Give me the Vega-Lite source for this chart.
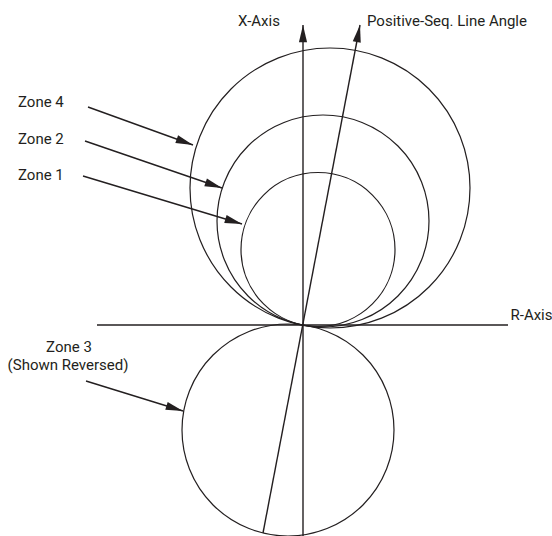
{
  "$schema": "https://vega.github.io/schema/vega-lite/v6.json",
  "width": 552,
  "height": 536,
  "padding": 0,
  "autosize": {"type": "none"},
  "config": {"view": {"stroke": null}, "text": {"font": "Roboto", "fontSize": 15, "color": "#231f20"}},
  "layer": [
    {
      "data": {"values": [
        {"zone": "Zone 4", "x": 2.7, "y": 13.7, "diameter": 28.0},
        {"zone": "Zone 2", "x": 2.0, "y": 10.4, "diameter": 21.2},
        {"zone": "Zone 1", "x": 1.5, "y": 7.55, "diameter": 15.4},
        {"zone": "Zone 3", "x": -1.5, "y": -10.5, "diameter": 21.2}
      ]},
      "mark": {"type": "point", "shape": "circle", "filled": false, "stroke": "#231f20", "strokeWidth": 1.2, "opacity": 1},
      "encoding": {
        "x": {"field": "x", "type": "quantitative", "scale": {"domain": [-30.3, 24.9], "nice": false, "zero": false}, "axis": null},
        "y": {"field": "y", "type": "quantitative", "scale": {"domain": [-21.1, 32.5], "nice": false, "zero": false}, "axis": null},
        "size": {"field": "diameter", "type": "quantitative", "scale": {"type": "pow", "exponent": 2, "domain": [0, 30], "range": [0, 90000]}, "legend": null}
      }
    },
    {
      "data": {"values": [
        {"name": "R-Axis", "x": -20.6, "y": 0, "x2": 20.5, "y2": 0},
        {"name": "X-Axis", "x": 0, "y": -21.1, "x2": 0, "y2": 30.0},
        {"name": "Line Angle", "x": -4.0, "y": -20.8, "x2": 5.7, "y2": 30.0},
        {"name": "Zone 4", "x": -21.5, "y": 21.8, "x2": -11.0, "y2": 18.0},
        {"name": "Zone 2", "x": -21.8, "y": 18.4, "x2": -8.1, "y2": 13.7},
        {"name": "Zone 1", "x": -22.0, "y": 14.9, "x2": -6.1, "y2": 10.1},
        {"name": "Zone 3", "x": -21.7, "y": -5.6, "x2": -12.0, "y2": -8.6}
      ]},
      "mark": {"type": "rule", "color": "#231f20", "strokeWidth": 1.4},
      "encoding": {
        "x": {"field": "x", "type": "quantitative", "scale": {"domain": [-30.3, 24.9], "nice": false, "zero": false}, "axis": null},
        "y": {"field": "y", "type": "quantitative", "scale": {"domain": [-21.1, 32.5], "nice": false, "zero": false}, "axis": null},
        "x2": {"field": "x2"},
        "y2": {"field": "y2"}
      }
    },
    {
      "data": {"values": [
        {"name": "X-Axis", "x": 0, "y": 30.0, "angle": 0},
        {"name": "Line Angle", "x": 5.7, "y": 30.0, "angle": 10.8},
        {"name": "Zone 4", "x": -11.0, "y": 18.0, "angle": 109.9},
        {"name": "Zone 2", "x": -8.1, "y": 13.7, "angle": 108.9},
        {"name": "Zone 1", "x": -6.1, "y": 10.1, "angle": 106.8},
        {"name": "Zone 3", "x": -12.0, "y": -8.6, "angle": 107.2}
      ]},
      "mark": {"type": "point", "shape": "M0,0L-0.47,2L0.47,2Z", "filled": true, "color": "#231f20", "size": 300, "opacity": 1, "strokeWidth": 0},
      "encoding": {
        "x": {"field": "x", "type": "quantitative", "scale": {"domain": [-30.3, 24.9], "nice": false, "zero": false}, "axis": null},
        "y": {"field": "y", "type": "quantitative", "scale": {"domain": [-21.1, 32.5], "nice": false, "zero": false}, "axis": null},
        "angle": {"field": "angle", "type": "quantitative", "scale": null}
      }
    },
    {
      "data": {"values": [
        {"label": "Positive-Seq. Line Angle", "x": 6.4, "y": 30.45},
        {"label": "Zone 4", "x": -28.5, "y": 22.3},
        {"label": "Zone 2", "x": -28.5, "y": 18.6},
        {"label": "Zone 1", "x": -28.5, "y": 15.0},
        {"label": "R-Axis", "x": 20.75, "y": 1.0}
      ]},
      "mark": {"type": "text", "align": "left", "baseline": "middle"},
      "encoding": {
        "x": {"field": "x", "type": "quantitative", "scale": {"domain": [-30.3, 24.9], "nice": false, "zero": false}, "axis": null},
        "y": {"field": "y", "type": "quantitative", "scale": {"domain": [-21.1, 32.5], "nice": false, "zero": false}, "axis": null},
        "text": {"field": "label"}
      }
    },
    {
      "data": {"values": [
        {"label": "X-Axis", "x": -4.4, "y": 30.45},
        {"label": "Zone 3", "x": -23.4, "y": -2.2},
        {"label": "(Shown Reversed)", "x": -23.5, "y": -4.0}
      ]},
      "mark": {"type": "text", "align": "center", "baseline": "middle"},
      "encoding": {
        "x": {"field": "x", "type": "quantitative", "scale": {"domain": [-30.3, 24.9], "nice": false, "zero": false}, "axis": null},
        "y": {"field": "y", "type": "quantitative", "scale": {"domain": [-21.1, 32.5], "nice": false, "zero": false}, "axis": null},
        "text": {"field": "label"}
      }
    }
  ]
}
